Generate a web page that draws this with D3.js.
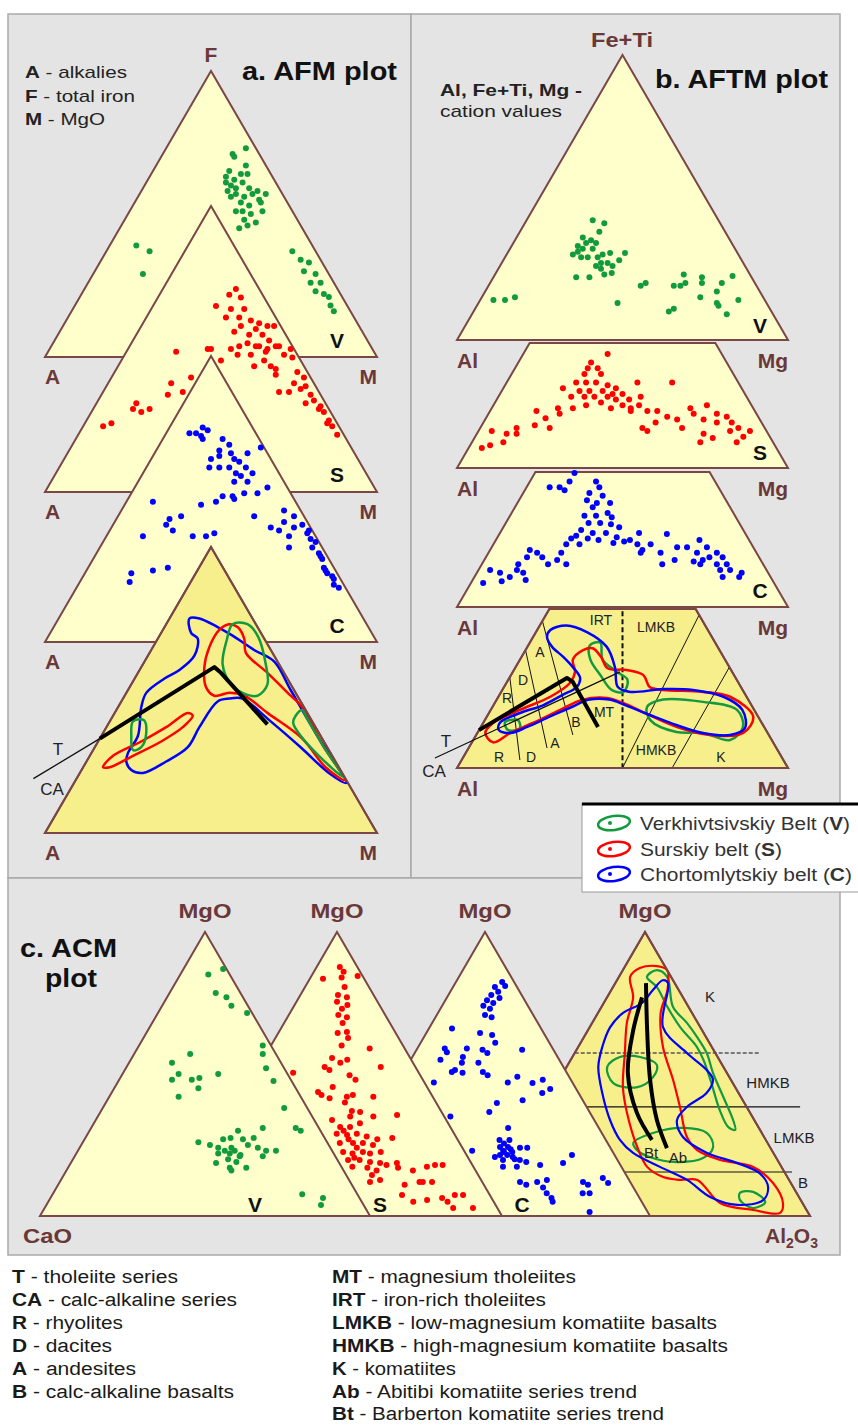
<!DOCTYPE html>
<html><head><meta charset="utf-8">
<script src="https://cdn.jsdelivr.net/npm/d3@7/dist/d3.min.js"></script>
<style>
html,body{margin:0;padding:0;background:#fff;}
svg{display:block;}
text{font-family:"Liberation Sans",Arial,Helvetica,sans-serif;}
</style></head>
<body>
<svg id="chart" width="858" height="1425"></svg>
<script>
// ---------- DATA (ternary values, [top component %, right component %]; left = 100 - top - right) ----------
// a. AFM plot: [F, M]
const afmV = [[73,24],[71,21],[70,22],[67,27],[65,23],[64,27],[64,29],[63,23],[62,26],[61,29],[60,26],[59,28],[59,32],[58,35],[57,38],[57,34],[56,28],[55,37],[54,32],[53,35],[51,40],[51,32],[50,37],[48,36],[47,40],[45,36],[46,38],[61,24],[57,29],[56,32],[58,26],[54,38],[51,34],
  [39,8],[37,13],[29,15],
  [37,56],[34,60],[33,63],[30,63],[29,67],[26,67],[26,70],[23,70],[22,73],[21,75],[18,77],[16,79]];
const afmS = [[71,22],[69,21],[68,25],[65,19],[64,24],[64,28],[61,24],[61,28],[60,32],[59,35],[58,30],[57,35],[58,38],[58,40],[56,29],[55,34],[55,38],[53,41],[51,33],[51,38],[51,44],[50,25],[50,31],[49,42],[48,38],[48,48],[47,51],[49,15],[52,35],[51,39],[50,42],[48,34],[46,43],[44,46],[51,45],[46,30],[50,24],[44,41],[43,48],[50,49],[41,49],[42,55],[40,58],[38,56],[37,60],[36,59],[34,63],[35,56],[35,53],[32,65],[30,68],[28,70],[25,73],[23,75],[20,78],[31,63],[29,68],[24,73],[40,24],[38,19],[35,24],[34,20],[31,12],[29,12],[28,15],[29,17],[24,8],[23,6]];
const afmC = [[73,7],[73,9],[75,10],[74,12],[72,11],[71,12],[71,18],[69,21],[67,19],[66,23],[66,28],[64,18],[65,20],[64,25],[63,27],[61,30],[61,25],[59,28],[59,33],[58,30],[56,29],[56,33],[68,31],[61,19],[61,22],[54,40],[52,38],[52,34],[50,32],[51,28],[51,31],[49,27],[48,23],[49,8],[44,19],[43,16],[41,16],[39,19],[37,11],[37,26],[37,30],[38,32],[44,41],[46,49],[44,53],[42,51],[40,48],[39,51],[37,55],[33,57],[40,55],[41,57],[38,60],[36,62],[33,64],[31,67],[29,69],[26,71],[24,73],[22,76],[19,79],[20,77],[35,64],[30,68],[25,72],[23,75],[39,60],[24,14],[21,15],[25,20],[26,24]];
const afmFieldC = [[75,6],[75,9],[72,16],[69,22],[64,31],[60,39],[50,49],[34,65],[17.5,82],[21,75],[30,62],[40,47],[47,36],[47,32],[46,29],[37,28],[30,28],[25,24],[21,19],[22,15],[25,12],[28,11],[34,11],[44,7],[49,6],[54,9],[57,12],[62,14],[68,12],[70,9]];
const afmFieldS1 = [[73,19],[72,22],[68,26],[63,29],[56,39],[48,50],[44,55.5],[31,68],[18.5,81],[23,73],[33,61],[42,46],[48,36],[49,31],[48,27],[51,23],[58,19],[65,17],[71,17]];
const afmFieldS2 = [[23,6],[27,7],[32,13],[37,18],[42,22],[41,24],[37,23],[32,19],[27,13],[23,8]];
const afmFieldV1 = [[73,20],[73,24.5],[68.5,30],[59,37],[52,41],[48,40],[49,35],[52,30],[59,24],[67.5,21]];
const afmFieldV2 = [[39,7],[39.5,10],[35,13],[30,14],[29,12],[34,9]];
const afmFieldV3 = [[41,55],[43,56],[41,58],[30,69],[19.6,80],[27,69],[34,60],[38.5,55.5]];
const afmTrendT = [[33,0],[58,22],[56,25],[38,48]];
const afmTrendCA = [[19,-13],[33,0]];

// b. AFTM plot: [Fe+Ti, Mg]
const aftmV = [[42,20],[41,24],[38,24],[36,20],[35,23],[34,25],[33,20],[32,22],[32,25],[30,20],[29,23],[29,28],[30,29],[30.5,31],[30.5,35.5],[28,35],[27,30],[27,32],[26,34],[26,29],[29,25],[22,25],[22,29],[23,33],[23.5,35],[31,21],[34,22],[25,31],
  [14,4],[14,7.5],[15,10],[19,46],[20,47],[13,42],
  [23,57],[19,56],[19,58],[20,59],[22,63],[20,64],[22.5,72],[20,70],[17,70],[15,66],[14,78],[13,72],[12,73],[9,77],[10,59],[11,60]];
const aftmS = [[40,25.5],[37,22],[35,22],[35,25],[33,22],[33,27],[30,21],[30,24],[30,27],[29,31],[28,34],[30,39.5],[30,50],[28,18],[27,23.5],[27,26.5],[27,30.5],[26,34],[26,37],[25,26],[25,29],[25,33],[24,36],[24,40],[25,43],[22,28],[23,32],[21,36],[21,42],[22,44],[20,47.5],[20,50.5],[25,22],[21,24.5],[21,20],[19,21.5],[20,14],[15,16],[17.5,18],[14,21],[14,11],[12,9],[13,4],[9,9.5],[7,4],[8,6],[12,12],[20,42.5],[18,54.5],[17,58],[16,52],[14,49],[13,51],[21,60],[19,62],[22,64.5],[17,66],[19,69],[18,72.5],[16,70.5],[16,75],[13,76],[14,78],[11,81],[13,82],[9,80],[12,68.5],[10.5,72],[9,69],[14,61],[22,39]];
const aftmC = [[47,12],[44,12],[41,12],[42,7],[42,10],[44,20],[42,22],[40,20],[39,24.5],[37.5,20.5],[36.5,24],[35,23.5],[36.5,28],[32,22.5],[32,26],[33,29],[31.5,31],[29.5,25],[29.5,28.5],[29,32],[28,35],[27,24],[26,28],[26,32],[24.5,36],[24,27.5],[23.5,31],[25,23.5],[22.5,36],[24,22.5],[22,22],[22,26],[23,39],[23.5,40.5],[26,42],[22,43.5],[20,46],[19,46],[22,47.5],[25.6,50.6],[19,52],[15,54.5],[21,56],[16.5,57.5],[21,59],[23.5,61.5],[21,65],[19,63],[16,63.5],[16.5,66],[17.5,67.5],[19,69],[17.5,71.5],[15,71],[15,74],[13,73],[13,76],[10.5,80],[12,80],[10.5,75],[15,66],[19,22],[16.5,22],[15,25.5],[15,20],[17.5,17],[19,14.7],[17.5,12.4],[15,11],[12,14],[13,11.6],[10.5,10.7],[12,7],[9,9],[13,3.5],[8.4,3.7],[9.5,16],[20,12]];
const aftmFieldC = [[48.4,4],[50,8],[47.7,15.4],[42.5,24],[35.4,30],[28.4,34.4],[26.7,39],[27.7,48.4],[27.4,57.6],[25,68],[20.4,76],[14,80],[11.6,76.7],[12.3,68],[15,59],[18.6,49],[22,40],[24,34],[24,28],[21.4,24],[18,19],[14.4,14],[12.3,10],[13.3,6],[15.8,5],[19.3,9.4],[22,15],[25.6,19],[28.4,22],[31.6,21.4],[35.4,17.3],[39,12.6],[42.5,7.5],[46,4.2]];
const aftmFieldS = [[38,16],[41.4,17.4],[42,20],[39,24],[35,28],[34.4,34],[32.6,40],[28.4,44],[27.4,48.5],[26.7,61],[25,70],[18,80.5],[12.3,80.3],[11.6,70.6],[14.4,59.3],[19.6,46.4],[22.8,38.8],[24.6,33],[24,26],[20.4,21],[15.8,15],[12.3,10],[9,6.4],[12.3,2.4],[15.8,3],[20.4,8.8],[25,15.7],[29.8,19.2],[33.7,18.8]];
const aftmFieldV1 = [[43,18.6],[44,21.3],[38,25],[33.7,31.5],[31,36],[26.7,37],[27.4,33],[32.6,27],[38,21.3]];
const aftmFieldV2 = [[21.4,46.7],[24,50.3],[23.2,62.7],[20.4,74.4],[14.4,79.2],[9.8,77.6],[12.3,68.2],[12.6,60],[16.8,50]];
const aftmFieldV3 = [[16,6.5],[16.8,10],[14,12],[13.3,8.8]];
const aftmTrendT = [[13.3,0],[31.6,17.4],[30.2,19.9],[14.4,35.4]];
const aftmTrendCA = [[3.5,-8.4],[33.7,32.4]];
const aftmRockLines = [[[31.9,0],[2.8,17.6]],[[41.4,0],[7,23.7]],[[51.6,0],[11.6,29.2]]];
const aftmIRTLine = [[55,22.5],[0,50]];
const aftmKomLines = [[[53.7,46.3],[0,50]],[[35.4,64.6],[0,65]]];

// c. ACM plot: [MgO, Al2O3]
const acmV = [[87,12],[85,8.5],[78.5,14],[77,18],[74,21],[71.5,27],[60,37.5],[57,39],[52,42.5],[47.5,47],[57,17],[54,13],[50,17],[48,16],[48,22],[48.6,24],[45,25.5],[50,29],[42,21],[38,55],[31,62],[30,64],[30,45],[31,52],[27.5,51],[26,35],[25,39],[27,42],[27.5,44],[27,48],[24,42],[24,46],[25,50.5],[24,54],[23,57],[23,60],[21,57],[22,43],[22,46.5],[21.5,50],[20,47],[19,50],[18.7,44],[17,49],[17,54],[16,50],[21,50],[23,44.5],[23,47.5],[7.7,75.6],[6.3,82.6],[3.9,83.2]];
const acmS = [[87.7,7],[86,9],[84,9.4],[83.5,4],[84.5,14],[80.6,12],[77.8,11.4],[77,14.5],[75.4,12.3],[74.3,16],[73,15],[70.8,15],[70,18],[68,17.7],[64.4,18],[64.8,20.6],[62.7,22],[60,21.4],[59,30.4],[55.6,20.7],[54,24],[55,25.6],[52.5,20],[51.4,22],[52.5,37],[50.4,11.5],[49.6,29],[48,31.6],[45.4,26],[43.7,22.4],[42.6,24],[41.5,27],[42,32],[42.6,33.5],[42,40],[40,32.4],[37,36],[36.6,38.7],[35,36.5],[33.8,31.6],[35,43.5],[35.6,50.4],[31.3,35.3],[31.3,38.3],[32.7,40.6],[29,35.4],[28.5,38.8],[29,41.5],[28,45],[27,48.7],[27.5,53],[25.7,38],[25.7,42],[25.7,45],[25,48.4],[22.5,40.6],[22,43.7],[22.5,46.6],[22,49],[22.5,52],[19.7,43.5],[19.7,47],[19,50.5],[18.7,53.7],[18,56],[18.7,58.8],[17.3,46],[17,50.7],[16,54],[14.4,53.4],[12.7,56.7],[12,54],[17,60],[16,65],[17.3,68.6],[11,65],[12,69],[7.4,66],[5,70.6],[5.6,74.5],[18,70.7],[18,73],[12,70],[12,72.8],[6.3,78.7],[5,81],[7.4,82],[7.4,84.5],[2.8,83.8],[2.8,89.8],[27,40],[24,44],[20.5,45],[30,37]];
const acmC = [[82.4,14],[81,15.6],[80.6,12.7],[79,14.5],[76.8,16],[77.8,13],[76,12.6],[75,15],[74,12.5],[73,15],[70.8,14.6],[70,17],[66,7],[64.4,16.3],[63.7,20.3],[61,22.6],[59,8.3],[57.7,9.6],[55,9],[59,15],[58.5,20],[57.4,22],[56,15.3],[54,16],[54,21],[51.4,15.2],[50.7,14.6],[50.4,18],[50.7,24],[49.6,26],[47,11],[47,33.4],[49,35.3],[58.5,32],[46.8,41],[48,43.5],[43.3,45.7],[44.7,47.4],[40.8,41],[39.8,33.7],[36.6,33],[35,22],[31,41.5],[24.3,42.4],[23,44],[24.3,44.8],[22.5,47],[21.5,46],[21.5,43.8],[20.8,42.6],[20.8,48],[19.7,45.6],[24,48.6],[24,50.8],[23,34.6],[19.7,50.7],[17.3,51],[19,53],[18,57.7],[18.7,64.3],[21.5,65.6],[17.3,46.8],[12,54.6],[11,57],[12,59.8],[10,62.6],[8,64.7],[6.3,67],[5,68],[12.7,62.4],[12,73.7],[11,75.7],[8,75.6],[8,77.7],[13.4,79],[11.6,81.5],[1.4,81],[26.8,41],[26.8,44],[25.5,43],[23.5,46],[22.5,44.5],[20,49]];
const acmFieldS = [[84.2,3.4],[87.3,4.8],[88,9.6],[86.6,13.4],[79.6,17],[71.5,19],[59.5,25.7],[48,34.5],[38.4,41.4],[27.8,48.8],[23.2,54.2],[19.7,63],[17.3,74],[11.6,83],[4.6,89.5],[1.1,90.4],[2.1,81.7],[4.6,70.4],[12.7,59.5],[12.7,54.3],[13.7,48.7],[17.3,42],[24.3,35.5],[36.3,26.4],[45.4,20.6],[57.4,15.2],[68,10.5],[77,7.9]];
const acmFieldC = [[75,11.6],[79.6,12.6],[83,13.9],[82,16],[66.5,22.2],[57.4,34],[51.4,43],[48,46.6],[43.3,47],[38.4,43.5],[33.8,42.8],[27.8,47.6],[22.2,57.7],[18.7,68.5],[15,77.3],[10.2,82.2],[5.6,83],[3.9,76],[6.7,66.4],[12.7,56.4],[17.3,45.9],[22.2,35.3],[26.8,29],[33.8,22.5],[43.3,15.4],[52.5,9.6],[59.5,7.3],[66.5,6.2],[71.5,7.6]];
const acmFieldV1 = [[84.2,8.5],[86.6,10.3],[84.2,14.6],[73.6,21.7],[68,28.7],[63,34.3],[57.4,40],[50.4,45.4],[42,52.7],[33.8,59.8],[30.3,62.2],[31.3,59.6],[37.3,54],[48,45.8],[55,40.2],[59.5,36],[66.5,27.4],[73.6,20],[80.6,13.3]];
const acmFieldV2 = [[52.5,12.3],[56,14.4],[56,20.5],[53.2,27],[48.9,28],[45.4,25],[46.8,17]];
const acmFieldV3 = [[25.7,33.6],[29.2,37.8],[31,46],[29.2,54.2],[24.3,58.5],[20.4,57.4],[19,50.2],[20.8,41],[23.2,36]];
const acmFieldV4 = [[8.1,74.7],[8.5,78.5],[4.9,84],[2.8,81.3],[5.6,76]];
const acmTrendBt = [[77,10.6],[65.5,13.7],[50.4,19.6],[36.3,29.4],[26.8,38.7]];
const acmTrendAb = [[82,9.3],[65.5,17.9],[47.9,27.6],[33.8,36.7],[23.9,44.7]];
const acmLevels = [[[57.4,0],[57.4,56.1]],[[38.4,0],[38.4,77.8]],[[15.5,0],[15.5,86.8]]];

const legendBelts = [["Verkhivtsivskiy Belt (","V",")"],["Surskiy belt (","S",")"],["Chortomlytskiy belt (","C",")"]];
const notesLeft = [["T","tholeiite series"],["CA","calc-alkaline series"],["R","rhyolites"],["D","dacites"],["A","andesites"],["B","calc-alkaline basalts"]];
const notesRight = [["MT","magnesium tholeiites"],["IRT","iron-rich tholeiites"],["LMKB","low-magnesium komatiite basalts"],["HMKB","high-magnesium komatiite basalts"],["K","komatiites"],["Ab","Abitibi komatiite series trend"],["Bt","Barberton komatiite series trend"]];

// ---------- DRAWING ----------
const svg = d3.select('#chart');
const defs = svg.append('defs');
const BROWN='#7a4646', LABEL='#6b3838', LIGHT='#ffffcc', DARK='#f6ef8c', PANEL='#e4e4e4';
const COL={V:'#129a3e',S:'#ff0000',C:'#0000ff'};

function tern(L,y0,W,H){
  const sx=d3.scaleLinear().domain([0,100]).range([L,L+W]);
  const sy=d3.scaleLinear().domain([0,100]).range([y0,y0-H]);
  return d=>[sx(d[1]+d[0]/2), sy(d[0])];
}
function shape(cut){return cut==null?[[0,0],[0,100],[100,0]]:[[0,0],[0,100],[cut,100-cut],[cut,0]];}
function pts(p,cut){return shape(cut).map(p).map(q=>q.join(',')).join(' ');}
function tri(g,p,cut,fill){g.append('polygon').attr('points',pts(p,cut)).attr('fill',fill).attr('stroke',BROWN).attr('stroke-width',2);}
function frame(g,p,cut){g.append('polygon').attr('points',pts(p,cut)).attr('fill','none').attr('stroke',BROWN).attr('stroke-width',2);}
let clipN=0;
function clipG(g,p,cut){const id='clip'+(clipN++);defs.append('clipPath').attr('id',id).append('polygon').attr('points',pts(p,cut));return g.append('g').attr('clip-path','url(#'+id+')');}
function dots(g,p,data,color){g.selectAll(null).data(data).enter().append('circle').attr('cx',d=>p(d)[0]).attr('cy',d=>p(d)[1]).attr('r',3).attr('fill',color);}
const closed=d3.line().curve(d3.curveCatmullRomClosed.alpha(0.5));
const smooth=d3.line().curve(d3.curveCatmullRom.alpha(0.5));
const straight=d3.line();
function loop(g,p,data,color,w){g.append('path').attr('d',closed(data.map(p))).attr('fill','none').attr('stroke',color).attr('stroke-width',w||2.5);}
function seg(g,p,data,w,color,dash,gen){const path=g.append('path').attr('d',(gen||straight)(data.map(p))).attr('fill','none').attr('stroke',color||'#000').attr('stroke-width',w).attr('stroke-linejoin','round').attr('stroke-linecap','butt');if(dash)path.attr('stroke-dasharray',dash);return path;}

// panels
svg.append('rect').attr('x',8).attr('y',14).attr('width',403).attr('height',864).attr('fill',PANEL).attr('stroke','#a9a9a9').attr('stroke-width',1.5);
svg.append('rect').attr('x',411).attr('y',14).attr('width',429).attr('height',864).attr('fill',PANEL).attr('stroke','#a9a9a9').attr('stroke-width',1.5);
svg.append('rect').attr('x',8).attr('y',878).attr('width',832).attr('height',377).attr('fill',PANEL).attr('stroke','#a9a9a9').attr('stroke-width',1.5);

// ---- panel a: AFM ----
const gA=svg.append('g');
const afmBase=[357,492,642,833];
[[afmV,COL.V],[afmS,COL.S],[afmC,COL.C]].forEach((s,i)=>{const p=tern(45,afmBase[i],332,286);tri(gA,p,null,LIGHT);dots(gA,p,s[0],s[1]);});
{
  const p=tern(45,afmBase[3],332,286);
  tri(gA,p,null,DARK);
  const gc=clipG(gA,p,null);
  loop(gc,p,afmFieldC,COL.C);
  loop(gc,p,afmFieldS1,COL.S);loop(gc,p,afmFieldS2,COL.S);
  loop(gc,p,afmFieldV1,COL.V);loop(gc,p,afmFieldV2,COL.V);loop(gc,p,afmFieldV3,COL.V);
  frame(gA,p,null);
  seg(gA,p,afmTrendCA,1.3,'#111');
  seg(gA,p,afmTrendT,4,'#000');
}

// ---- panel b: AFTM ----
const gB=svg.append('g');
const aftmBase=[340,468,607,768], aftmCut=[null,43.9,47.4,55.8];
[[aftmV,COL.V],[aftmS,COL.S],[aftmC,COL.C]].forEach((s,i)=>{const p=tern(457,aftmBase[i],331,285);tri(gB,p,aftmCut[i],LIGHT);dots(gB,p,s[0],s[1]);});
{
  const p=tern(457,aftmBase[3],331,285), cut=aftmCut[3];
  tri(gB,p,cut,DARK);
  const gc=clipG(gB,p,cut);
  aftmRockLines.forEach(l=>seg(gc,p,l,1,'#111'));
  aftmKomLines.forEach(l=>seg(gc,p,l,1,'#111'));
  seg(gc,p,aftmIRTLine,2,'#111','5,3');
  loop(gc,p,aftmFieldV1,COL.V);loop(gc,p,aftmFieldV2,COL.V);loop(gc,p,aftmFieldV3,COL.V);
  loop(gc,p,aftmFieldS,COL.S);
  loop(gc,p,aftmFieldC,COL.C);
  frame(gB,p,cut);
  seg(gB,p,aftmTrendCA,1.3,'#111');
  seg(gB,p,aftmTrendT,4,'#000');
}

// ---- panel c: ACM ----
const gC=svg.append('g');
const acmLeft=[40,172,320,480];
{
  const p=tern(acmLeft[3],1216,330,284);
  tri(gC,p,null,DARK);
  acmLevels.forEach((l,i)=>seg(gC,p,l,i===0?1.6:1.2,i===0?'#555':'#111',i===0?'4,2':null));
  const gc=clipG(gC,p,null);
  loop(gc,p,acmFieldV1,COL.V,2.2);loop(gc,p,acmFieldV2,COL.V,2.2);loop(gc,p,acmFieldV3,COL.V,2.2);loop(gc,p,acmFieldV4,COL.V,2.2);
  loop(gc,p,acmFieldS,COL.S,2.2);
  loop(gc,p,acmFieldC,COL.C,2.2);
  seg(gc,p,acmTrendBt,4,'#000',null,smooth);
  seg(gc,p,acmTrendAb,4,'#000',null,smooth);
  frame(gC,p,null);
}
[[acmC,COL.C,2],[acmS,COL.S,1],[acmV,COL.V,0]].forEach(s=>{const p=tern(acmLeft[s[2]],1216,330,284);tri(gC,p,null,LIGHT);dots(gC,p,s[0],s[1]);});

// ---------- TEXT ----------
function txt(x,y,s,o){o=o||{};const t=svg.append('text').attr('x',x).attr('y',y).attr('font-size',o.size||18).attr('fill',o.fill||'#222').attr('font-weight',o.bold?'bold':'normal').attr('text-anchor',o.anchor||'start');
  if(o.len)t.attr('textLength',o.len).attr('lengthAdjust','spacingAndGlyphs');t.text(s);return t;}
function rich(x,y,parts,o){o=o||{};const t=svg.append('text').attr('x',x).attr('y',y).attr('font-size',o.size||18).attr('fill',o.fill||'#222');
  if(o.len)t.attr('textLength',o.len).attr('lengthAdjust','spacingAndGlyphs');
  parts.forEach(pp=>t.append('tspan').attr('font-weight',pp[1]?'bold':'normal').text(pp[0]));return t;}

// panel a texts
rich(25,78,[["A",1],[" - alkalies",0]],{size:17,len:102});
rich(25,102,[["F",1],[" - total iron",0]],{size:17,len:110});
rich(25,125,[["M",1],[" - MgO",0]],{size:17,len:80});
txt(242,80,'a. AFM plot',{size:25,bold:1,fill:'#111',len:155});
txt(211,62,'F',{size:21,bold:1,fill:LABEL,anchor:'middle'});
afmBase.forEach(b=>{txt(45,b+27,'A',{size:21,bold:1,fill:LABEL});txt(377,b+27,'M',{size:21,bold:1,fill:LABEL,anchor:'end'});});
[['V',348],['S',482],['C',633]].forEach(d=>txt(337,d[1],d[0],{size:21,bold:1,fill:'#111',anchor:'middle'}));
txt(58,755,'T',{size:17,anchor:'middle'});
txt(52,795,'CA',{size:17,anchor:'middle'});

// panel b texts
txt(622,47,'Fe+Ti',{size:21,bold:1,fill:LABEL,anchor:'middle',len:62});
txt(655,88,'b. AFTM plot',{size:25,bold:1,fill:'#111',len:173});
txt(440,96,'Al, Fe+Ti, Mg -',{size:17,bold:1,fill:'#222',len:142});
txt(440,117,'cation values',{size:17,fill:'#222',len:122});
aftmBase.forEach(b=>{txt(457,b+28,'Al',{size:21,bold:1,fill:LABEL});txt(788,b+28,'Mg',{size:21,bold:1,fill:LABEL,anchor:'end'});});
[['V',333],['S',460],['C',598]].forEach(d=>txt(760,d[1],d[0],{size:21,bold:1,fill:'#111',anchor:'middle'}));
txt(446,747,'T',{size:17,anchor:'middle'});
txt(434,777,'CA',{size:17,anchor:'middle'});
[['IRT',601,625],['LMKB',656,632],['R',507,703],['D',523,685],['A',540,657],['R',499,762],['D',531,762],['A',555,748],['B',576,727],['MT',604,717],['HMKB',656,755],['K',721,762]]
  .forEach(d=>txt(d[1],d[2],d[0],{size:14,anchor:'middle',fill:'#222'}));

// panel c texts
txt(20,957,'c. ACM',{size:25,bold:1,fill:'#111',len:97});
txt(45,987,'plot',{size:25,bold:1,fill:'#111',len:52});
[205,337,485,645].forEach(x=>txt(x,918,'MgO',{size:21,bold:1,fill:LABEL,anchor:'middle',len:53}));
txt(23,1243,'CaO',{size:21,bold:1,fill:LABEL,len:49});
{const t=svg.append('text').attr('x',765).attr('y',1243).attr('font-size',21).attr('font-weight','bold').attr('fill',LABEL);
 t.append('tspan').text('Al');t.append('tspan').attr('font-size',14).attr('dy',5).text('2');t.append('tspan').attr('dy',-5).text('O');t.append('tspan').attr('font-size',14).attr('dy',5).text('3');}
[['V',255],['S',380],['C',522]].forEach(d=>txt(d[1],1212,d[0],{size:21,bold:1,fill:'#111',anchor:'middle'}));
[['K',710,1002],['HMKB',768,1088],['LMKB',794,1143],['B',803,1188],['Bt',651,1158],['Ab',678,1163]]
  .forEach(d=>txt(d[1],d[2],d[0],{size:15,anchor:'middle',fill:'#222'}));

// legend box
svg.append('rect').attr('x',582).attr('y',804).attr('width',290).attr('height',88).attr('fill','#fff').attr('stroke','#9a9a9a');
svg.append('line').attr('x1',582).attr('x2',858).attr('y1',804).attr('y2',804).attr('stroke','#000').attr('stroke-width',3);
const legCols=[COL.V,COL.S,COL.C], legY=[830,856,881], legLen=[210,142,212];
legendBelts.forEach((b,i)=>{
  const cy=legY[i]-7;
  svg.append('ellipse').attr('cx',614).attr('cy',cy).attr('rx',16).attr('ry',7).attr('transform','rotate(-8,614,'+cy+')').attr('fill','none').attr('stroke',legCols[i]).attr('stroke-width',2.5);
  svg.append('circle').attr('cx',610).attr('cy',cy).attr('r',2).attr('fill',legCols[i]);
  rich(640,legY[i],[[b[0],0],[b[1],1],[b[2],0]],{size:18,fill:'#333',len:legLen[i]});
});

// bottom notes
const rowsY=[1283,1306,1329,1352,1375,1398,1420];
const lenL=[166,225,111,100,124,222], lenR=[244,214,385,396,124,305,332];
notesLeft.forEach((n,i)=>rich(12,rowsY[i],[[n[0],1],[' - '+n[1],0]],{size:18,fill:'#1a1a1a',len:lenL[i]}));
notesRight.forEach((n,i)=>rich(332,rowsY[i],[[n[0],1],[' - '+n[1],0]],{size:18,fill:'#1a1a1a',len:lenR[i]}));
</script>
</body></html>
